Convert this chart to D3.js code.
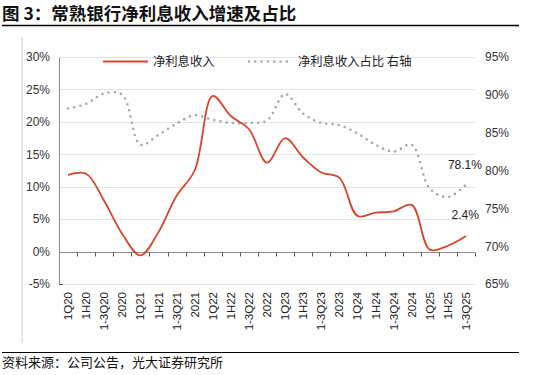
<!DOCTYPE html>
<html>
<head>
<meta charset="utf-8">
<script src="https://cdn.jsdelivr.net/npm/d3@7"></script>
<style>
  body { margin: 0; background: #fff; }
  svg text { font-family: "Liberation Sans", Arial, sans-serif; }
  .cn { font-family: "Noto Sans CJK SC", "Noto Sans", sans-serif; }
</style>
</head>
<body>
<svg width="537" height="375"></svg>
<script>
var periods = ["1Q20", "1H20", "1-3Q20", "2020", "1Q21", "1H21", "1-3Q21", "2021",
  "1Q22", "1H22", "1-3Q22", "2022", "1Q23", "1H23", "1-3Q23", "2023",
  "1Q24", "1H24", "1-3Q24", "2024", "1Q25", "1H25", "1-3Q25"];

// 净利息收入增速 (%)
var growth = [11.8, 12.0, 7.8, 2.7, -0.6, 3.0, 8.6, 12.5,
  24.0, 20.9, 18.9, 13.7, 17.5, 14.5, 12.2, 11.4,
  5.5, 6.0, 6.2, 7.2, 0.3, 0.9, 2.4];

// 净利息收入占比 (%, 右轴)
var share = [88.2, 88.8, 90.2, 90.0, 83.4, 84.7, 86.2, 87.3,
  86.7, 86.3, 86.3, 86.6, 90.1, 87.5, 86.3, 86.0,
  84.9, 83.4, 82.5, 83.4, 77.6, 76.5, 78.1];

var leftTicks = [-5, 0, 5, 10, 15, 20, 25, 30];
var rightTicks = [65, 70, 75, 80, 85, 90, 95];

var svg = d3.select("svg"),
    margin = {top: 57, right: 62, bottom: 91, left: 59},
    width = +svg.attr("width"),
    height = +svg.attr("height");

var x = d3.scaleBand()
    .domain(periods)
    .range([margin.left, width - margin.right]);

var yL = d3.scaleLinear()
    .domain([-5, 30])
    .range([height - margin.bottom, margin.top]);

var yR = d3.scaleLinear()
    .domain([65, 95])
    .range([height - margin.bottom, margin.top]);

var red = "#d5462b", grey = "#a8a8a8";
var numFont = "DejaVu Sans Condensed, Liberation Sans, sans-serif";

// title and rules
svg.append("text").attr("class", "cn")
    .attr("x", 2).attr("y", 20)
    .attr("font-size", 17.5).attr("font-weight", "bold").attr("fill", "#111")
    .text("图 3：常熟银行净利息收入增速及占比");
svg.append("line").attr("x1", 2).attr("x2", 519).attr("y1", 25.5).attr("y2", 25.5)
    .attr("stroke", "#000").attr("stroke-width", 1.5);
svg.append("line").attr("x1", 22).attr("x2", 22).attr("y1", 37).attr("y2", 343)
    .attr("stroke", "#d0d0d0");
svg.append("line").attr("x1", 2).attr("x2", 519).attr("y1", 352.5).attr("y2", 352.5)
    .attr("stroke", "#000").attr("stroke-width", 1.2);
svg.append("text").attr("class", "cn")
    .attr("x", 2).attr("y", 366.5)
    .attr("font-size", 13).attr("fill", "#111")
    .text("资料来源：公司公告，光大证券研究所");

// grid
svg.append("g")
  .selectAll("line")
  .data(leftTicks)
  .enter().append("line")
    .attr("x1", margin.left).attr("x2", width - margin.right)
    .attr("y1", function(d) { return Math.round(yL(d)) + 0.5; })
    .attr("y2", function(d) { return Math.round(yL(d)) + 0.5; })
    .attr("stroke", "#e4e4e4");

// left axis
var gl = svg.append("g")
    .attr("transform", "translate(" + margin.left + ",0)")
    .call(d3.axisLeft(yL).tickValues(leftTicks).tickSize(0).tickPadding(9)
      .tickFormat(function(d) { return d + "%"; }));
gl.select(".domain").attr("stroke", "#8c8c8c");
gl.selectAll("text").attr("font-size", 12).attr("fill", "#333")
    .attr("font-family", numFont);

// right axis
var gr = svg.append("g")
    .attr("transform", "translate(" + (width - margin.right) + ",0)")
    .call(d3.axisRight(yR).tickValues(rightTicks).tickSize(0).tickPadding(10)
      .tickFormat(function(d) { return d + "%"; }));
gr.select(".domain").remove();
gr.selectAll("text").attr("font-size", 12).attr("fill", "#333")
    .attr("font-family", numFont);

// x axis at 0%
var x0 = Math.round(yL(0)) + 0.5;
var gx = svg.append("g");
gx.append("line").attr("x1", margin.left).attr("x2", width - margin.right)
    .attr("y1", x0).attr("y2", x0).attr("stroke", "#8c8c8c");
gx.selectAll("line.tick")
  .data(periods.map(function(p) { return x(p) + x.bandwidth(); }))
  .enter().append("line").attr("class", "tick")
    .attr("x1", function(d) { return Math.round(d) + 0.5; })
    .attr("x2", function(d) { return Math.round(d) + 0.5; })
    .attr("y1", x0).attr("y2", x0 + 4)
    .attr("stroke", "#555");
svg.append("line").attr("x1", margin.left).attr("x2", margin.left + 4)
    .attr("y1", Math.round(yL(-5)) + 0.5).attr("y2", Math.round(yL(-5)) + 0.5)
    .attr("stroke", "#555");

svg.append("g")
  .selectAll("text")
  .data(periods)
  .enter().append("text")
    .attr("transform", function(d) {
      return "translate(" + (x(d) + x.bandwidth() / 2) + ",292) rotate(-90)";
    })
    .attr("text-anchor", "end")
    .attr("dy", "0.35em")
    .attr("font-size", 11.5)
    .attr("fill", "#222")
    .attr("font-family", numFont)
    .text(function(d) { return d; });

// share line (dotted, right axis)
var lineR = d3.line()
    .x(function(d, i) { return x(periods[i]) + x.bandwidth() / 2; })
    .y(function(d) { return yR(d); })
    .curve(d3.curveCatmullRom.alpha(0.5));

svg.append("path")
    .datum(share)
    .attr("fill", "none")
    .attr("stroke", grey)
    .attr("stroke-width", 2.6)
    .attr("stroke-linecap", "round")
    .attr("stroke-dasharray", "0,6.3")
    .attr("d", lineR);

// growth line
var lineL = d3.line()
    .x(function(d, i) { return x(periods[i]) + x.bandwidth() / 2; })
    .y(function(d) { return yL(d); })
    .curve(d3.curveCatmullRom.alpha(0.5));

svg.append("path")
    .datum(growth)
    .attr("fill", "none")
    .attr("stroke", red)
    .attr("stroke-width", 1.8)
    .attr("d", lineL);

// end labels
var last = periods[periods.length - 1];
svg.append("text")
    .attr("x", x(last) + x.bandwidth() / 2 + 16).attr("y", yR(share[share.length - 1]) - 16)
    .attr("text-anchor", "end").attr("font-size", 12).attr("fill", "#222")
    .attr("font-family", numFont)
    .text(share[share.length - 1].toFixed(1) + "%");
svg.append("text")
    .attr("x", x(last) + x.bandwidth() / 2 + 13).attr("y", yL(growth[growth.length - 1]) - 17)
    .attr("text-anchor", "end").attr("font-size", 12).attr("fill", "#222")
    .attr("font-family", numFont)
    .text(growth[growth.length - 1].toFixed(1) + "%");

// legend
var lg = svg.append("g");
lg.append("line").attr("x1", 103).attr("x2", 148).attr("y1", 61.5).attr("y2", 61.5)
    .attr("stroke", red).attr("stroke-width", 1.8);
lg.append("text").attr("class", "cn").attr("x", 153).attr("y", 66)
    .attr("font-size", 12.3).attr("fill", "#222").text("净利息收入");
lg.append("line").attr("x1", 249).attr("x2", 292).attr("y1", 61.5).attr("y2", 61.5)
    .attr("stroke", grey).attr("stroke-width", 2.6)
    .attr("stroke-linecap", "round").attr("stroke-dasharray", "0,6.3");
lg.append("text").attr("class", "cn").attr("x", 298).attr("y", 66)
    .attr("font-size", 12.3).attr("fill", "#222").text("净利息收入占比 右轴");
</script>
</body>
</html>
